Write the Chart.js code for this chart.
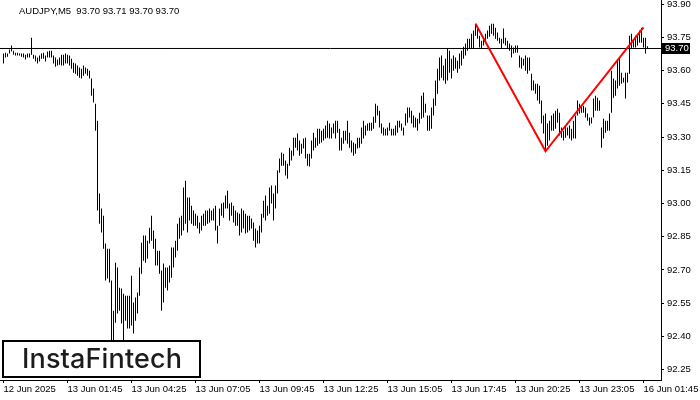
<!DOCTYPE html>
<html>
<head>
<meta charset="utf-8">
<script src="https://cdn.jsdelivr.net/npm/chart.js@4/dist/chart.umd.min.js"></script>
<style>
  html, body { margin: 0; padding: 0; background: #fff; }
  #chart { display: block; }
</style>
</head>
<body>
<canvas id="chart" width="700" height="400"></canvas>
<script>
// AUDJPY M5, one entry per 5-minute bar
const symbolTitle = 'AUDJPY,M5  93.70 93.71 93.70 93.70';
const lastPrice = 93.70;

const barHighs = [
  93.677, 93.681, 93.677, 93.695, 93.713, 93.690, 93.681, 93.681, 93.677, 93.677,
  93.677, 93.672, 93.677, 93.677, 93.749, 93.672, 93.668, 93.659, 93.668, 93.677,
  93.681, 93.668, 93.686, 93.690, 93.690, 93.668, 93.659, 93.650, 93.659, 93.672,
  93.672, 93.677, 93.672, 93.668, 93.654, 93.636, 93.632, 93.623, 93.614, 93.609,
  93.623, 93.614, 93.609, 93.600, 93.564, 93.519, 93.451, 93.374, 93.045, 92.977,
  92.945, 92.819, 92.796, 92.796, 92.652, 92.516, 92.733, 92.711, 92.620, 92.616,
  92.593, 92.584, 92.584, 92.584, 92.674, 92.553, 92.575, 92.598, 92.711, 92.823,
  92.855, 92.855, 92.832, 92.891, 92.945, 92.878, 92.841, 92.787, 92.787, 92.697,
  92.729, 92.711, 92.711, 92.720, 92.801, 92.801, 92.832, 92.909, 92.936, 92.945,
  93.072, 93.103, 93.027, 93.027, 92.990, 92.968, 92.954, 92.945, 92.914, 92.945,
  92.954, 92.968, 92.968, 92.977, 92.968, 92.977, 92.990, 92.900, 92.977, 93.000,
  93.004, 93.036, 93.058, 93.000, 93.004, 92.990, 92.968, 92.959, 92.954, 92.977,
  92.968, 92.954, 92.945, 92.945, 92.932, 92.914, 92.887, 92.878, 92.900, 92.954,
  93.013, 93.036, 92.990, 93.072, 93.081, 93.045, 93.081, 93.149, 93.203, 93.230,
  93.225, 93.194, 93.180, 93.252, 93.239, 93.297, 93.297, 93.316, 93.284, 93.270,
  93.293, 93.297, 93.225, 93.225, 93.284, 93.320, 93.297, 93.338, 93.338, 93.329,
  93.338, 93.352, 93.374, 93.361, 93.343, 93.361, 93.374, 93.374, 93.338, 93.297,
  93.329, 93.329, 93.374, 93.320, 93.284, 93.275, 93.270, 93.297, 93.297, 93.343,
  93.374, 93.352, 93.361, 93.365, 93.365, 93.392, 93.451, 93.442, 93.419, 93.361,
  93.343, 93.338, 93.343, 93.365, 93.338, 93.338, 93.352, 93.374, 93.374, 93.361,
  93.343, 93.406, 93.433, 93.433, 93.419, 93.397, 93.388, 93.383, 93.410, 93.487,
  93.501, 93.451, 93.397, 93.397, 93.433, 93.474, 93.555, 93.609, 93.659, 93.668,
  93.623, 93.654, 93.699, 93.690, 93.654, 93.668, 93.659, 93.645, 93.677, 93.690,
  93.708, 93.722, 93.744, 93.744, 93.767, 93.781, 93.812, 93.794, 93.758, 93.735,
  93.749, 93.767, 93.781, 93.803, 93.812, 93.812, 93.794, 93.772, 93.749, 93.744,
  93.790, 93.749, 93.735, 93.722, 93.713, 93.704, 93.713, 93.713, 93.668, 93.659,
  93.654, 93.668, 93.659, 93.659, 93.586, 93.555, 93.541, 93.541, 93.532, 93.465,
  93.397, 93.406, 93.361, 93.374, 93.397, 93.406, 93.419, 93.428, 93.410, 93.343,
  93.329, 93.352, 93.343, 93.352, 93.338, 93.374, 93.397, 93.465, 93.451, 93.437,
  93.442, 93.433, 93.406, 93.388, 93.388, 93.474, 93.487, 93.478, 93.465, 93.343,
  93.383, 93.374, 93.374, 93.406, 93.600, 93.564, 93.555, 93.645, 93.659, 93.591,
  93.568, 93.591, 93.591, 93.758, 93.767, 93.735, 93.758, 93.758, 93.781, 93.794,
  93.749, 93.749, 93.710
];

const barLows = [
  93.632, 93.659, 93.663, 93.677, 93.686, 93.672, 93.668, 93.668, 93.668, 93.663,
  93.659, 93.650, 93.659, 93.659, 93.672, 93.654, 93.641, 93.632, 93.641, 93.654,
  93.654, 93.641, 93.659, 93.659, 93.659, 93.632, 93.618, 93.623, 93.627, 93.623,
  93.623, 93.632, 93.632, 93.623, 93.609, 93.591, 93.586, 93.577, 93.568, 93.564,
  93.577, 93.586, 93.577, 93.564, 93.487, 93.456, 93.329, 92.968, 92.909, 92.869,
  92.796, 92.652, 92.661, 92.643, 92.358, 92.358, 92.462, 92.503, 92.516, 92.458,
  92.358, 92.471, 92.435, 92.435, 92.449, 92.413, 92.471, 92.503, 92.584, 92.683,
  92.742, 92.733, 92.751, 92.819, 92.832, 92.796, 92.720, 92.720, 92.683, 92.516,
  92.553, 92.620, 92.607, 92.643, 92.665, 92.711, 92.756, 92.787, 92.841, 92.855,
  92.878, 92.909, 92.869, 92.923, 92.909, 92.900, 92.900, 92.887, 92.864, 92.878,
  92.900, 92.900, 92.909, 92.914, 92.923, 92.923, 92.878, 92.819, 92.900, 92.945,
  92.936, 92.977, 92.977, 92.923, 92.945, 92.914, 92.900, 92.900, 92.855, 92.869,
  92.887, 92.864, 92.869, 92.878, 92.887, 92.832, 92.801, 92.819, 92.819, 92.869,
  92.936, 92.923, 92.945, 92.954, 93.000, 92.923, 92.977, 93.045, 93.139, 93.171,
  93.171, 93.126, 93.112, 93.171, 93.194, 93.216, 93.252, 93.239, 93.216, 93.225,
  93.248, 93.203, 93.171, 93.167, 93.203, 93.239, 93.252, 93.261, 93.270, 93.275,
  93.284, 93.293, 93.297, 93.293, 93.293, 93.316, 93.293, 93.320, 93.239, 93.239,
  93.270, 93.284, 93.270, 93.252, 93.230, 93.216, 93.225, 93.248, 93.252, 93.270,
  93.293, 93.307, 93.329, 93.329, 93.329, 93.338, 93.365, 93.397, 93.343, 93.316,
  93.307, 93.307, 93.307, 93.329, 93.307, 93.307, 93.307, 93.320, 93.343, 93.329,
  93.307, 93.352, 93.365, 93.388, 93.361, 93.343, 93.343, 93.329, 93.361, 93.383,
  93.388, 93.410, 93.329, 93.329, 93.338, 93.397, 93.442, 93.496, 93.555, 93.568,
  93.555, 93.541, 93.555, 93.591, 93.564, 93.600, 93.609, 93.591, 93.609, 93.623,
  93.654, 93.668, 93.690, 93.699, 93.699, 93.699, 93.758, 93.744, 93.704, 93.699,
  93.713, 93.726, 93.744, 93.753, 93.767, 93.758, 93.744, 93.735, 93.722, 93.699,
  93.722, 93.713, 93.699, 93.690, 93.659, 93.677, 93.681, 93.681, 93.614, 93.609,
  93.623, 93.600, 93.586, 93.600, 93.510, 93.510, 93.496, 93.465, 93.451, 93.361,
  93.316, 93.239, 93.261, 93.284, 93.329, 93.329, 93.338, 93.365, 93.307, 93.297,
  93.284, 93.297, 93.307, 93.293, 93.284, 93.293, 93.293, 93.397, 93.406, 93.410,
  93.410, 93.388, 93.374, 93.352, 93.361, 93.388, 93.419, 93.419, 93.419, 93.252,
  93.293, 93.320, 93.329, 93.329, 93.410, 93.478, 93.487, 93.519, 93.532, 93.541,
  93.546, 93.474, 93.546, 93.586, 93.699, 93.704, 93.704, 93.713, 93.726, 93.726,
  93.704, 93.677, 93.700
];

// time axis: a label every 32 bars
const timeTickBars = [0, 32, 64, 96, 128, 160, 192, 224, 256, 288, 320];
const timeTickLabels = [
  '12 Jun 2025', '13 Jun 01:45', '13 Jun 04:25', '13 Jun 07:05', '13 Jun 09:45',
  '13 Jun 12:25', '13 Jun 15:05', '13 Jun 17:45', '13 Jun 20:25', '13 Jun 23:05',
  '16 Jun 01:45'
];
const priceTicks = [92.25, 92.40, 92.55, 92.70, 92.85, 93.00, 93.15, 93.30, 93.45, 93.60, 93.75, 93.90];

// double top pattern (bar index, price)
const patternBars = [236, 271, 320];
const patternPrices = [93.812, 93.236, 93.795];

const xMin = -1.75;
const xMax = 328.75;
const axisFont = { family: '"Liberation Sans", Arial, sans-serif', size: 9.5 };

const overlay = {
  id: 'overlay',
  afterDraw(chart) {
    const ctx = chart.ctx;
    const yScale = chart.scales.y;
    ctx.save();

    // symbol header
    ctx.fillStyle = '#000';
    ctx.font = '9.5px "Liberation Sans", Arial, sans-serif';
    ctx.textBaseline = 'middle';
    ctx.textAlign = 'left';
    ctx.fillText(symbolTitle, 19, 11);

    // last price marker on the axis
    const py = yScale.getPixelForValue(lastPrice);
    ctx.fillStyle = '#000';
    ctx.fillRect(yScale.left + 1, Math.round(py) - 5, 28, 11);
    ctx.fillStyle = '#fff';
    ctx.fillText(lastPrice.toFixed(2), yScale.left + 4, Math.round(py) + 0.5);

    // logo
    ctx.fillStyle = '#fff';
    ctx.fillRect(2, 340, 199, 38);
    ctx.lineWidth = 2;
    ctx.strokeStyle = '#000';
    ctx.strokeRect(3, 341, 197, 36);
    ctx.fillStyle = '#1c1c1c';
    ctx.font = '500 27px Inter, Lato, sans-serif';
    const w = ctx.measureText('InstaFintech').width;
    ctx.letterSpacing = ((160 - w) / 11).toFixed(2) + 'px';
    ctx.textBaseline = 'middle';
    ctx.fillText('InstaFintech', 22, 360);
    ctx.restore();
  }
};

new Chart(document.getElementById('chart'), {
  type: 'bar',
  data: {
    datasets: [
      {
        type: 'line',
        data: patternBars.map((b, k) => ({ x: b, y: patternPrices[k] })),
        borderColor: '#f00',
        borderWidth: 2,
        pointRadius: 0,
        tension: 0
      },
      {
        type: 'line',
        data: [{ x: xMin, y: lastPrice }, { x: xMax, y: lastPrice }],
        borderColor: '#000',
        borderWidth: 1,
        pointRadius: 0
      },
      {
        type: 'bar',
        data: barHighs.map((h, i) => ({ x: i, y: [barLows[i], h] })),
        backgroundColor: '#000',
        borderWidth: 0,
        inflateAmount: 0,
        barThickness: 1
      }
    ]
  },
  options: {
    responsive: false,
    animation: false,
    devicePixelRatio: 1,
    layout: { padding: 0 },
    plugins: {
      legend: { display: false },
      tooltip: { enabled: false }
    },
    scales: {
      x: {
        type: 'linear',
        min: xMin,
        max: xMax,
        offset: false,
        grid: { drawOnChartArea: false, drawTicks: true, tickLength: 3, color: '#000', offset: false },
        border: { color: '#000' },
        ticks: {
          autoSkip: false,
          maxRotation: 0,
          align: 'start',
          padding: 1,
          color: '#000',
          font: axisFont,
          callback: (v, k) => timeTickLabels[k]
        },
        afterBuildTicks: s => { s.ticks = timeTickBars.map(v => ({ value: v })); },
        afterFit: s => { s.height = 20; s.paddingLeft = 0; s.paddingRight = 0; }
      },
      y: {
        position: 'right',
        min: 92.203,
        max: 93.919,
        grid: { drawOnChartArea: false, drawTicks: true, tickLength: 3, color: '#000' },
        border: { color: '#000' },
        ticks: {
          padding: 3,
          color: '#000',
          font: axisFont,
          callback: v => v.toFixed(2)
        },
        afterBuildTicks: s => { s.ticks = priceTicks.map(v => ({ value: v })); },
        afterFit: s => { s.width = 39; s.paddingTop = 0; s.paddingBottom = 0; }
      }
    }
  },
  plugins: [overlay]
});
</script>
</body>
</html>
